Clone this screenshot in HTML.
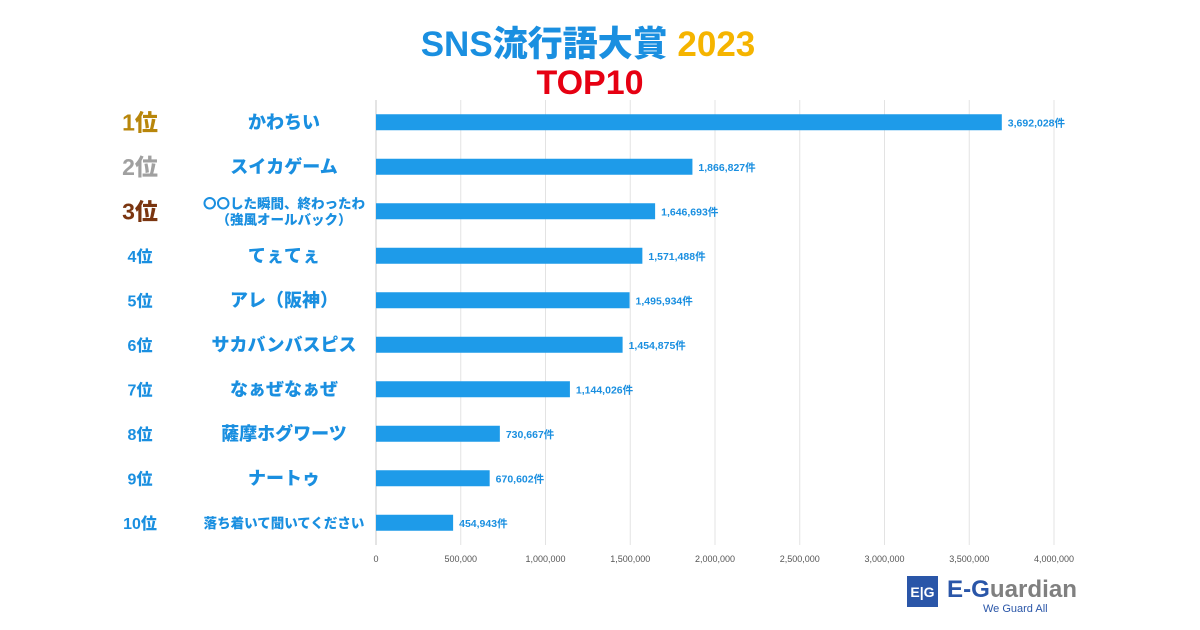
<!DOCTYPE html>
<html><head><meta charset="utf-8">
<style>
body{margin:0;background:#fff;}
svg{display:block;font-family:"Liberation Sans","Noto Sans CJK JP",sans-serif;}
</style></head><body>
<svg id="c" width="1200" height="630">
<text x="588" y="56" text-anchor="middle" font-size="35" font-weight="900"><tspan fill="#1a8fe0">SNS流行語大賞 </tspan><tspan fill="#f5b400">2023</tspan></text>
<text x="590" y="94" text-anchor="middle" font-size="34" font-weight="900" fill="#e60012">TOP10</text>
<g id="grid"></g><g id="bars"></g><g id="labels"></g>
<g>
<rect x="907" y="576" width="31" height="31" fill="#2a56a8"/>
<text x="922.5" y="597" text-anchor="middle" font-size="14" font-weight="700" fill="#fff">E|G</text>
<text x="947" y="597" font-size="24" font-weight="700" fill="#2a56a8" textLength="130" lengthAdjust="spacingAndGlyphs">E-G<tspan fill="#808080">uardian</tspan></text>
<text x="983" y="612" font-size="11" fill="#2a56a8">We Guard All</text>
</g>
</svg>
<script>
const categories=["かわちい","スイカゲーム","〇〇した瞬間、終わったわ|（強風オールバック）","てぇてぇ","アレ（阪神）","サカバンバスピス","なぁぜなぁぜ","薩摩ホグワーツ","ナートゥ","落ち着いて聞いてください"];
const ranks=["1位","2位","3位","4位","5位","6位","7位","8位","9位","10位"];
const values=[3692028,1866827,1646693,1571488,1495934,1454875,1144026,730667,670602,454943];
const ticks=[0,500000,1000000,1500000,2000000,2500000,3000000,3500000,4000000];
const rankColors=["#b8860b","#a0a0a0","#7a3510"];
const NS="http://www.w3.org/2000/svg";
const x0=376,x1=1054,maxV=4000000,yTop=100,yBot=545;
const xs=v=>x0+(v/maxV)*(x1-x0);
const step=(yBot-yTop)/categories.length;
const ys=i=>yTop+step*(i+0.5);
function mk(t,a,p){const e=document.createElementNS(NS,t);for(const k in a)e.setAttribute(k,a[k]);p.appendChild(e);return e;}
const grid=document.getElementById('grid'),bars=document.getElementById('bars'),lab=document.getElementById('labels');
ticks.forEach(t=>{
 const l=mk('line',{x1:xs(t),x2:xs(t),y1:yTop,y2:yBot,stroke:t===0?'#c8c8c8':'#e3e3e3','stroke-width':1},grid);
 
 
 const tx=mk('text',{x:xs(t),y:562,'text-anchor':'middle','font-size':9,fill:'#555'},grid);
 tx.textContent=t.toLocaleString('en-US');
 
 
});
values.forEach((v,i)=>{
 const y=ys(i);
 const r=mk('rect',{x:x0,y:y-8,width:xs(v)-x0,height:16,fill:'#1e9be9'},bars);
 
 
 const vt=mk('text',{x:xs(v)+6,y:y+4,'font-size':10.5,'font-weight':700,fill:'#1a8fe0'},lab);
 vt.textContent=v.toLocaleString('en-US')+'件';
 
 
 const rt=mk('text',{x:140,y:y+(i<3?8:6),'text-anchor':'middle','font-size':i<3?23:16,'font-weight':900,fill:i<3?rankColors[i]:'#1a8fe0'},lab);
 rt.textContent=ranks[i];
 
 
 const parts=categories[i].split('|');
 const ct=mk('text',{x:284,'text-anchor':'middle','font-weight':900,fill:'#1a8fe0','font-size':parts.length>1||categories[i].length>10?13.5:18},lab);
 
 
 if(parts.length>1){
  ct.setAttribute('y',y-3);
  parts.forEach((p,j)=>{const s=mk('tspan',{x:284,dy:j?16:0},ct);s.textContent=p;});
 }else{ct.setAttribute('y',y+(categories[i].length>10?5:6));ct.textContent=parts[0];}
});
</script>
</body></html>
